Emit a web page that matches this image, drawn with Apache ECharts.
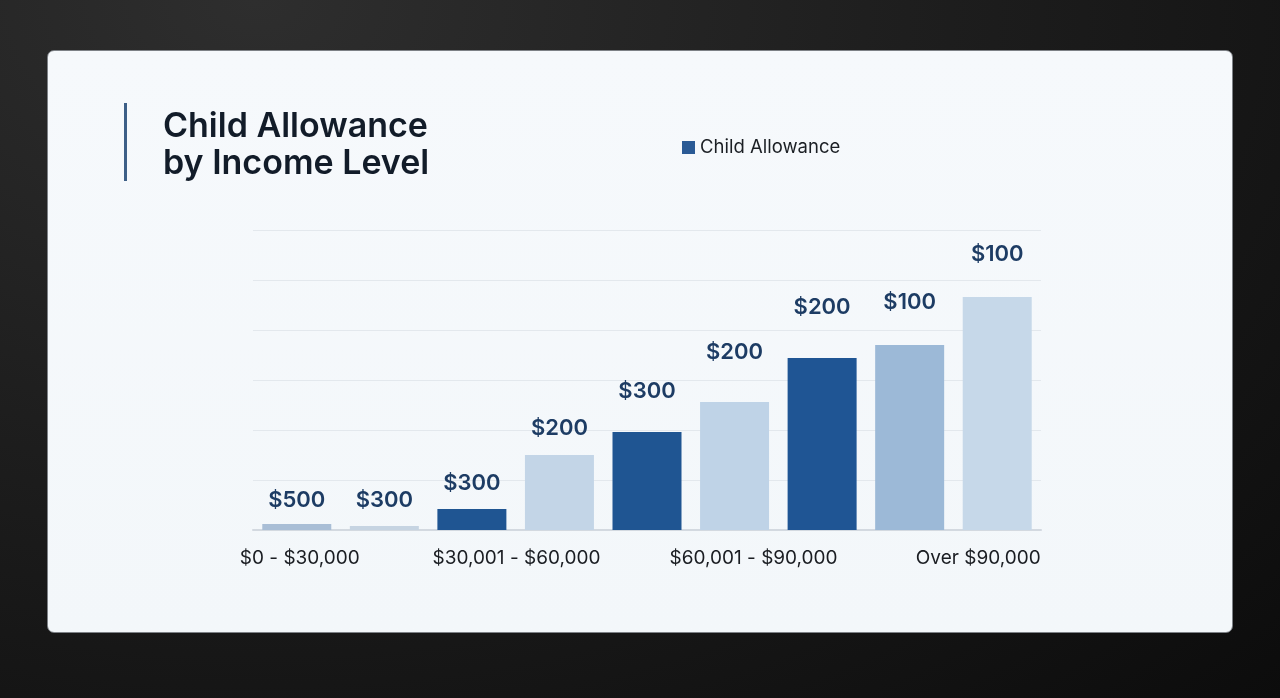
<!DOCTYPE html>
<html>
<head>
<meta charset="utf-8">
<script src="https://cdn.jsdelivr.net/npm/echarts@6/dist/echarts.min.js"></script>
<style>
    html, body {
        margin: 0;
        width: 1280px;
        height: 698px;
        overflow: hidden;
        background: radial-gradient(ellipse at 20% 0%, #2e2e2e 0%, #1e1e1e 45%, #0c0c0c 100%);
    }
    .card {
        position: absolute;
        left: 47px;
        top: 50px;
        width: 1184px;
        height: 581px;
        background: linear-gradient(180deg, #f6f9fc 0%, #f3f7fa 100%);
        border: 1px solid #7d8186;
        border-radius: 7px;
    }
    #chart {
        position: absolute;
        left: 0;
        top: 0;
        width: 1280px;
        height: 698px;
    }
</style>
</head>
<body>
<div class="card"></div>
<div id="chart"></div>
<script>
// data
const categories = ['$0 - $30,000', '', '', '$30,001 - $60,000', '', '$60,001 - $90,000', '', '', 'Over $90,000']
const barHeights = [6, 4, 21, 75, 98, 128, 172, 185, 233]
const barLabels = ['$500', '$300', '$300', '$200', '$300', '$200', '$200', '$100', '$100']
const yTicks = [0, 50, 100, 150, 200, 250, 300]

// styles
const barColors = ['#a9bed6', '#c6d4e2', '#1f5592', '#c3d5e7', '#1f5592', '#bfd3e7', '#1f5594', '#9cb9d7', '#c6d8e9']
const labelGaps = [13, 15, 15, 16, 30, 39, 40, 32, 32]
const catPads = [[0, 0, 0, 6], [0, 0, 0, 0], [0, 0, 0, 0], [0, 86, 0, 0], [0, 0, 0, 0], [0, 0, 0, 38], [0, 0, 0, 0], [0, 0, 0, 0], [0, 38, 0, 0]]

let mycharts = echarts.init(document.getElementById('chart'))
mycharts.setOption({
    animation: false,
    title: {
        text: 'Child Allowance\nby Income Level',
        left: 158,
        top: 103,
        textStyle: {
            fontFamily: 'Inter',
            fontSize: 34,
            fontWeight: 600,
            color: '#121c29',
            lineHeight: 37
        }
    },
    legend: {
        left: 677,
        top: 133,
        icon: 'rect',
        itemWidth: 13,
        itemHeight: 13,
        itemGap: 7,
        data: [{ name: 'Child Allowance', itemStyle: { color: '#2a5a95' } }],
        textStyle: {
            fontFamily: 'Inter',
            fontSize: 18.5,
            color: '#1b1f24'
        }
    },
    //标题左侧竖线
    graphic: [{
        type: 'rect',
        shape: { x: 124, y: 103, width: 3, height: 78 },
        style: { fill: '#3d5f87' }
    }],
    grid: {
        left: 253,
        right: 239,
        top: 230,
        bottom: 168
    },
    xAxis: {
        type: 'category',
        data: categories.map((c, i) => ({
            value: c,
            textStyle: { padding: catPads[i] }
        })),
        axisTick: { show: false },
        axisLine: { lineStyle: { color: '#d3d9e0', width: 2 } },
        axisLabel: {
            interval: 0,
            margin: 19,
            fontFamily: 'Inter',
            fontSize: 19,
            color: '#1a1d22'
        }
    },
    yAxis: {
        type: 'value',
        min: yTicks[0],
        max: yTicks[yTicks.length - 1],
        interval: yTicks[1] - yTicks[0],
        axisLabel: { show: false },
        axisLine: { show: false },
        axisTick: { show: false },
        splitLine: { lineStyle: { color: '#e3e8ed', width: 1 } }
    },
    series: [{
        name: 'Child Allowance',
        type: 'bar',
        barWidth: 69,
        data: barHeights.map((v, i) => ({
            value: v,
            itemStyle: { color: barColors[i] },
            label: {
                show: true,
                position: 'top',
                distance: labelGaps[i],
                formatter: barLabels[i],
                fontFamily: 'Inter',
                fontSize: 22,
                fontWeight: 600,
                color: '#1d3c64'
            }
        }))
    }]
})
</script>
</body>
</html>
